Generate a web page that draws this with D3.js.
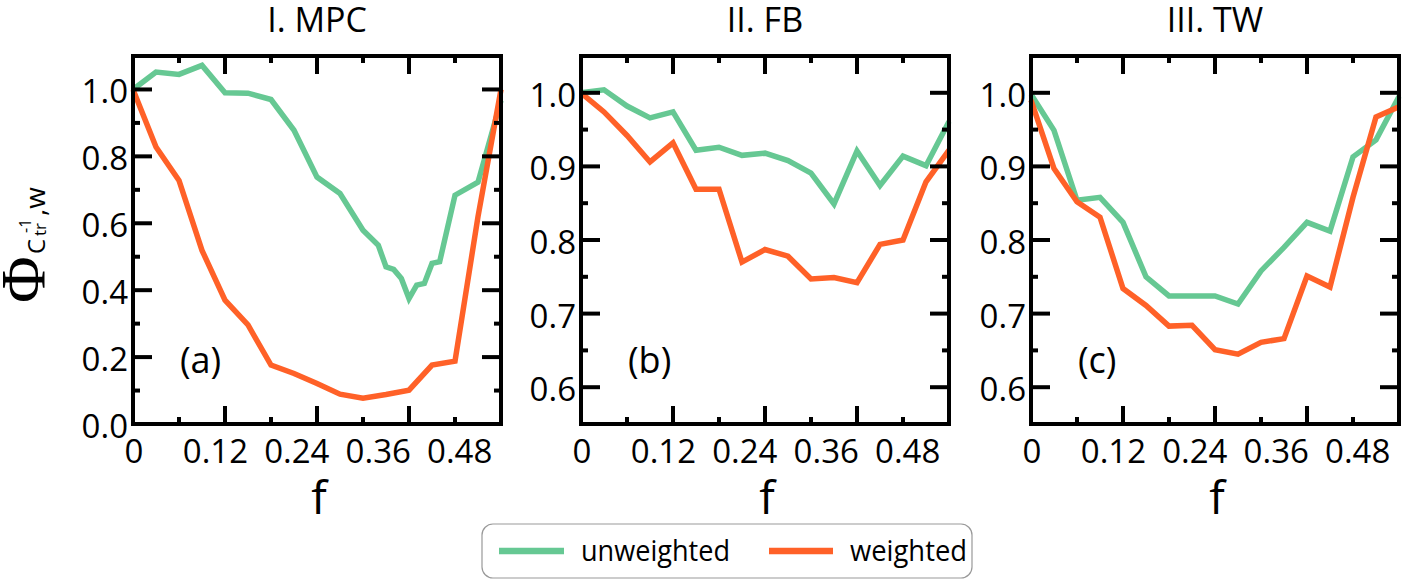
<!DOCTYPE html>
<html><head><meta charset="utf-8">
<script src="https://cdn.jsdelivr.net/npm/d3@7"></script>
<style>
html,body{margin:0;padding:0;background:#fff;}
svg{display:block;}
text{font-family:"Open Sans",sans-serif;fill:#000;}
</style></head>
<body>
<script>
// ---- data ----
const panelTitles = ["I. MPC", "II. FB", "III. TW"];
const panelTags = ["(a)", "(b)", "(c)"];
const seriesNames = ["unweighted", "weighted"];
const fGrid = [0, 0.03, 0.06, 0.09, 0.12, 0.15, 0.18, 0.21, 0.24, 0.27, 0.30, 0.33, 0.36, 0.39, 0.42, 0.45, 0.48];
const mpcUnwF = [0, 0.03, 0.06, 0.09, 0.12, 0.15, 0.18, 0.21, 0.24, 0.27, 0.30, 0.32, 0.33, 0.34, 0.35, 0.36, 0.37, 0.38, 0.39, 0.40, 0.42, 0.45, 0.48];
const mpcUnw = [1.0, 1.052, 1.045, 1.072, 0.990, 0.989, 0.970, 0.878, 0.738, 0.689, 0.579, 0.534, 0.470, 0.462, 0.435, 0.375, 0.415, 0.42, 0.48, 0.485, 0.684, 0.723, 0.967];
const mpcW = [1.0, 0.828, 0.728, 0.519, 0.370, 0.296, 0.176, 0.151, 0.121, 0.089, 0.077, 0.088, 0.101, 0.176, 0.188, 0.62, 1.0];
const fbUnw = [1.0, 1.004, 0.982, 0.966, 0.974, 0.922, 0.926, 0.915, 0.918, 0.908, 0.891, 0.849, 0.921, 0.874, 0.914, 0.901, 0.961];
const fbW = [1.0, 0.974, 0.942, 0.906, 0.932, 0.869, 0.869, 0.770, 0.787, 0.778, 0.747, 0.749, 0.742, 0.794, 0.800, 0.879, 0.922];
const twUnw = [0.998, 0.949, 0.854, 0.858, 0.824, 0.750, 0.724, 0.724, 0.724, 0.713, 0.758, 0.790, 0.824, 0.812, 0.913, 0.936, 0.995];
const twW = [0.99, 0.897, 0.852, 0.831, 0.734, 0.711, 0.683, 0.684, 0.651, 0.645, 0.661, 0.666, 0.751, 0.736, 0.858, 0.967, 0.981];
const xTickLabels = ["0", "0.12", "0.24", "0.36", "0.48"];
const xTickLabelVals = [0, 0.12, 0.24, 0.36, 0.48];
const xMajorTicks = [0.12, 0.24, 0.36];
const xMinorTicks = [0.06, 0.18, 0.30, 0.42];
const yDomains = [[0, 1.1], [0.55, 1.05], [0.55, 1.05]];
const yMajorTicks = [[0.2, 0.4, 0.6, 0.8, 1.0], [0.6, 0.7, 0.8, 0.9, 1.0], [0.6, 0.7, 0.8, 0.9, 1.0]];
const yMinorTicks = [[0.1, 0.3, 0.5, 0.7, 0.9], [0.65, 0.75, 0.85, 0.95], [0.65, 0.75, 0.85, 0.95]];
const yTickLabels = [["0.0", "0.2", "0.4", "0.6", "0.8", "1.0"], ["0.6", "0.7", "0.8", "0.9", "1.0"], ["0.6", "0.7", "0.8", "0.9", "1.0"]];
const yTickLabelVals = [[0, 0.2, 0.4, 0.6, 0.8, 1.0], [0.6, 0.7, 0.8, 0.9, 1.0], [0.6, 0.7, 0.8, 0.9, 1.0]];

const panelSeries = [
  [{x: mpcUnwF, y: mpcUnw}, {x: fGrid, y: mpcW}],
  [{x: fGrid, y: fbUnw}, {x: fGrid, y: fbW}],
  [{x: fGrid, y: twUnw}, {x: fGrid, y: twW}]
];
const colors = ["#66c893", "#ff6128"];

// ---- layout ----
const W = 1403, H = 580;
const panelLeft = [133, 581, 1031];
const panelW = 368;
const plotTop = 56, plotBottom = 424;
const labelSpan = 0.885; // tick labels are laid out over this fraction of the width in the original

const svg = d3.select("body").append("svg").attr("width", W).attr("height", H);

panelTitles.forEach((title, i) => {
  const L = panelLeft[i];
  const x = d3.scaleLinear().domain([0, 0.48]).range([L, L + panelW]);
  const xl = d3.scaleLinear().domain([0, 0.48]).range([L + 1, L + 1 + panelW * labelSpan]);
  const y = d3.scaleLinear().domain(yDomains[i]).range([plotBottom, plotTop]);
  const g = svg.append("g");

  // lines
  const line = d3.line().x(d => x(d[0])).y(d => y(d[1]));
  panelSeries[i].forEach((s, k) => {
    const pts = s.x.map((v, j) => [v, s.y[j]]);
    g.append("path").attr("d", line(pts)).attr("fill", "none")
      .attr("stroke", colors[k]).attr("stroke-width", 5.5).attr("stroke-linejoin", "miter");
  });

  // ticks (all four sides, inward)
  const tk = g.append("g").attr("stroke", "#000").attr("stroke-width", 4);
  const addX = (vals, len) => vals.forEach(v => {
    tk.append("line").attr("x1", x(v)).attr("x2", x(v)).attr("y1", plotBottom).attr("y2", plotBottom - len);
    tk.append("line").attr("x1", x(v)).attr("x2", x(v)).attr("y1", plotTop).attr("y2", plotTop + len);
  });
  addX(xMajorTicks, 18); addX(xMinorTicks, 7);
  const addY = (vals, len) => vals.forEach(v => {
    tk.append("line").attr("y1", y(v)).attr("y2", y(v)).attr("x1", L).attr("x2", L + len);
    tk.append("line").attr("y1", y(v)).attr("y2", y(v)).attr("x1", L + panelW).attr("x2", L + panelW - len);
  });
  addY(yMajorTicks[i], 19); addY(yMinorTicks[i], 7);

  // frame
  g.append("rect").attr("x", L).attr("y", plotTop).attr("width", panelW).attr("height", plotBottom - plotTop)
    .attr("fill", "none").attr("stroke", "#000").attr("stroke-width", 4);

  // tick labels
  xTickLabels.forEach((t, j) => {
    g.append("text").attr("x", xl(xTickLabelVals[j])).attr("y", 463).attr("text-anchor", "middle")
      .attr("font-size", 33).text(t);
  });
  yTickLabels[i].forEach((t, j) => {
    g.append("text").attr("x", L - 5).attr("y", y(yTickLabelVals[i][j]) + 14).attr("text-anchor", "end")
      .attr("font-size", 33).text(t);
  });

  // title, x label, tag
  g.append("text").attr("x", L + panelW / 2).attr("y", 32).attr("text-anchor", "middle")
    .attr("font-size", 34).text(title);
  g.append("text").attr("x", L + panelW / 2 + 2).attr("y", 514).attr("text-anchor", "middle")
    .attr("font-size", 46).text("f");
  g.append("text").attr("x", L + 47).attr("y", 373).attr("font-size", 36).text(panelTags[i]);
});

// y-axis label  Φ_{C_tr^{-1}, w}
const yl = svg.append("g").attr("transform", "translate(45,303) rotate(-90)");
yl.append("text").attr("x", 0).attr("y", 0).style("font-family", "'Liberation Serif', serif")
  .attr("font-size", 64).text("Φ");
yl.append("text").attr("x", 49).attr("y", 0).attr("font-size", 24).text("C");
yl.append("text").attr("x", 67).attr("y", 1).attr("font-size", 17).text("tr");
yl.append("text").attr("x", 70).attr("y", -14).attr("font-size", 16).text("-1");
yl.append("text").attr("x", 87).attr("y", 0).attr("font-size", 28).text(",w");

// legend
const lg = svg.append("g");
lg.append("rect").attr("x", 482).attr("y", 524).attr("width", 490).attr("height", 54).attr("rx", 11)
  .attr("fill", "#fff").attr("stroke", "#999").attr("stroke-width", 1.2);
const legX = [[499, 564, 581, 149], [769, 833, 850, 117]];
seriesNames.forEach((n, k) => {
  lg.append("line").attr("x1", legX[k][0]).attr("x2", legX[k][1]).attr("y1", 551).attr("y2", 551)
    .attr("stroke", colors[k]).attr("stroke-width", 6.5);
  lg.append("text").attr("x", legX[k][2]).attr("y", 561).attr("font-size", 30)
    .attr("textLength", legX[k][3]).attr("lengthAdjust", "spacingAndGlyphs").text(n);
});
</script>
</body></html>
